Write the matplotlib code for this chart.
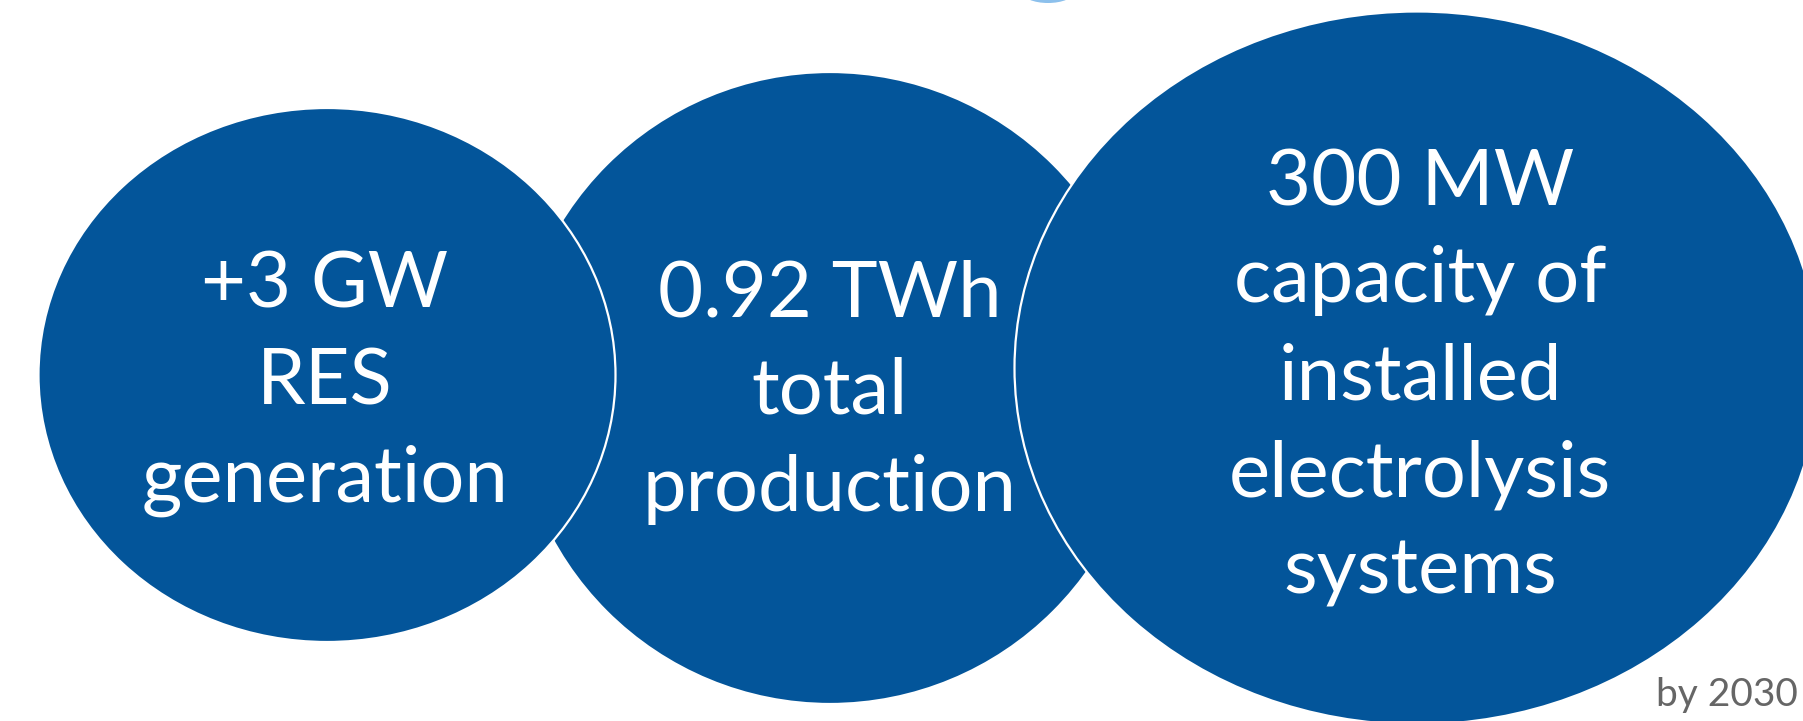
import matplotlib
matplotlib.use('Agg')
import matplotlib.pyplot as plt
from matplotlib.patches import Ellipse

plt.rcParams['font.family'] = ['Lato', 'DejaVu Sans']

# bubble contents
labels = ['+3 GW\nRES\ngeneration',
          '0.92 TWh\ntotal\nproduction',
          '300 MW\ncapacity of\ninstalled\nelectrolysis\nsystems']
centers_x = [327, 830, 1417]
centers_y = [375, 388, 368]
widths = [577, 632, 805]
heights = [534, 632, 713]
draw_order = [1, 0, 2]
footnote = 'by 2030'

blue = '#03559A'

fig = plt.figure(figsize=(18.03, 7.21), dpi=100)
ax = fig.add_axes([0, 0, 1, 1])
ax.set_xlim(0, 1803)
ax.set_ylim(721, 0)
ax.axis('off')

# piece of a light blue image peeking in at the top
ax.add_patch(Ellipse((1048, -8), 52, 22, facecolor='#8CC0EC', edgecolor='none', zorder=1))

for z, i in enumerate(draw_order):
    e = Ellipse((centers_x[i], centers_y[i]), widths[i], heights[i],
                facecolor=blue, edgecolor='white', linewidth=1.6, zorder=2 + z)
    ax.add_patch(e)

text_x = [325, 830, 1420]
text_y = [384, 392, 378]
for i, lab in enumerate(labels):
    ax.text(text_x[i], text_y[i], lab,
            color='white', fontsize=56, ha='center', va='center',
            linespacing=1.46, zorder=10)

ax.text(1798, 695, footnote, color='#666666', fontsize=28,
        ha='right', va='center', zorder=10)

plt.savefig('out.png', dpi=100, facecolor='white')
plt.close()
